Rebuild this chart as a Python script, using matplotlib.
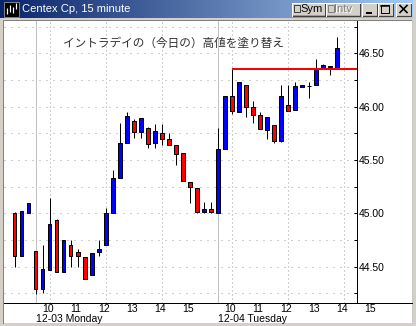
"""
Centex Cp 15-minute candles, 12-03 / 12-04, with the new intraday high marked.
"""

import numpy as np
import matplotlib
matplotlib.use("Agg")
import matplotlib.pyplot as plt
from matplotlib.patches import Rectangle
from matplotlib.ticker import MultipleLocator, FormatStrFormatter

W, H = 416, 326

# bar index: 0 = 12-03 09:30, 26 = 12-04 09:30 (15-minute bars)
bar_x = list(range(-3, 44))
opens = [45.00, 44.60, 45.00,
         44.65, 44.29, 44.47, 44.94, 44.45, 44.70, 44.64, 44.59, 44.42, 44.64,
         44.70, 45.00, 45.33, 45.66, 45.87, 45.76, 45.80, 45.66, 45.75, 45.70,
         45.64, 45.57, 45.29, 45.24, 45.01, 45.04,
         45.00, 45.60, 46.10, 45.95, 46.20, 46.00, 45.92, 45.78, 45.83, 45.68,
         46.02, 45.97, 46.18, 46.19, 46.20, 46.36, 46.37, 46.36]
highs = [45.01, 45.02, 45.10,
         44.65, 44.70, 45.14, 44.95, 44.75, 44.75, 44.67, 44.59, 44.63, 44.75,
         45.05, 45.41, 45.85, 45.95, 45.88, 45.89, 45.81, 45.84, 45.84, 45.75,
         45.64, 45.57, 45.29, 45.24, 45.11, 45.11,
         45.80, 46.10, 46.35, 46.23, 46.20, 46.05, 45.95, 45.90, 45.83, 46.20,
         46.20, 46.23, 46.20, 46.23, 46.45, 46.40, 46.38, 46.65]
lows = [44.50, 44.60, 45.00,
        44.24, 44.25, 44.47, 44.45, 44.45, 44.50, 44.50, 44.38, 44.42, 44.60,
        44.70, 45.00, 45.33, 45.66, 45.71, 45.71, 45.61, 45.61, 45.64, 45.64,
        45.45, 45.30, 45.10, 45.00, 45.00, 45.00,
        45.00, 45.60, 45.93, 45.95, 45.90, 45.85, 45.79, 45.70, 45.66, 45.67,
        45.96, 45.97, 46.18, 46.08, 46.20, 46.36, 46.30, 46.36]
closes = [44.60, 45.02, 45.10,
          44.29, 44.48, 44.90, 44.45, 44.75, 44.60, 44.60, 44.38, 44.63, 44.67,
          45.00, 45.33, 45.66, 45.91, 45.76, 45.89, 45.65, 45.77, 45.70, 45.64,
          45.56, 45.30, 45.25, 45.01, 45.04, 45.01,
          45.60, 46.10, 45.96, 46.23, 46.00, 45.92, 45.79, 45.90, 45.68, 46.10,
          45.96, 46.19, 46.20, 46.19, 46.36, 46.39, 46.38, 46.55]

day_starts = [0, 26]
day_labels = ["12-03 Monday", "12-04 Tuesday"]
hour_labels = ["10", "11", "12", "13", "14", "15"]

hi_level = 46.35      # 12-04 early high that gets taken out
hi_start = 28

note = "イントラデイの（今日の）高値を塗り替え"
title = "Centex Cp, 15 minute"

PT = 72 / 100  # one pixel in points

fig = plt.figure(figsize=(W / 100, H / 100), dpi=100)
fig.patch.set_facecolor("#d4d0c8")

# ---------------------------------------------------------------------------
# window frame (pixel coords)
# ---------------------------------------------------------------------------
bg = fig.add_axes([0, 0, 1, 1])
bg.set_xlim(0, W)
bg.set_ylim(H, 0)
bg.axis("off")

bg.add_patch(Rectangle((3.5, 19.5), 408, 303.5, facecolor="white", edgecolor="none"))
bg.plot([3, 3], [19.5, 323], color="#808080", lw=PT)
bg.plot([3, 412], [19.5, 19.5], color="#808080", lw=PT)
bg.plot([412, 412], [19.5, 323], color="#c8c8c8", lw=PT)

grad = np.linspace(0, 1, 256).reshape(1, -1)
cmap = matplotlib.colors.LinearSegmentedColormap.from_list("tb", ["#0a246a", "#a6caf0"])
bg.imshow(grad, cmap=cmap, extent=(0, 413, 18.5, 0), aspect="auto")
bg.set_xlim(0, W)
bg.set_ylim(H, 0)

# icon
bg.add_patch(Rectangle((3.5, 1.5), 15, 15, facecolor="black", edgecolor="#808080", lw=PT))
for xi, y0, y1 in [(7, 8, 14), (10, 5, 12), (13, 7, 13), (16, 3, 9)]:
    bg.plot([xi, xi], [y0, y1], color="white", lw=1.2 * PT, solid_capstyle="butt")
bg.text(22, 9.5, title, color="white", fontsize=8, family="Liberation Sans",
        va="center", ha="left")


def button(x0, x1, y0=2.7, y1=15.5):
    bg.add_patch(Rectangle((x0, y0), x1 - x0, y1 - y0, facecolor="#d4d0c8", edgecolor="none"))
    bg.plot([x0, x1, x1], [y1, y1, y0], color="#404040", lw=PT)
    bg.plot([x0, x0, x1], [y1, y0, y0], color="white", lw=PT)


button(292.3, 325)
bg.add_patch(Rectangle((294, 5), 6, 7, facecolor="#d4d0c8", edgecolor="#404040", lw=PT))
bg.text(300.5, 9.3, "Sym", fontsize=8, family="Liberation Sans", va="center", ha="left")
button(325.7, 360)
bg.add_patch(Rectangle((327.5, 5), 6, 7, facecolor="#d4d0c8", edgecolor="#808080", lw=PT))
bg.text(335, 10, "Intv", fontsize=8, family="Liberation Sans", va="center", ha="left",
        color="white")
bg.text(334.3, 9.3, "Intv", fontsize=8, family="Liberation Sans", va="center", ha="left",
        color="#808080")
button(362.3, 377.3)
bg.plot([366, 372], [12.5, 12.5], color="black", lw=2 * PT, solid_capstyle="butt")
button(377.5, 392.7)
bg.add_patch(Rectangle((381, 5), 8, 7.5, facecolor="none", edgecolor="black", lw=PT))
bg.plot([381, 389], [5.5, 5.5], color="black", lw=1.5 * PT)
button(396, 411)
bg.plot([400, 407], [5.5, 12.5], color="black", lw=1.6 * PT)
bg.plot([400, 407], [12.5, 5.5], color="black", lw=1.6 * PT)

# x axis line runs across the whole white panel
bg.plot([3.5, 411.5], [302.7, 302.7], color="black", lw=PT)

bg.text(63, 43.5, note, fontsize=8.4, color="#303030", va="center", ha="left",
        family=["Noto Sans CJK JP", "DejaVu Sans"])

# ---------------------------------------------------------------------------
# candles
# ---------------------------------------------------------------------------
ax = fig.add_axes([3.5 / W, 1 - 302.7 / H, (357 - 3.5) / W, (302.7 - 21) / H])
ax.patch.set_alpha(0)
x_lo, x_hi = -4.59, 45.83
ax.set_xlim(x_lo, x_hi)
ax.set_ylim(44.162, 46.803)

for y in np.arange(44.25, 46.8, 0.25):
    ax.axhline(y, color="#a0a0a0", lw=PT, linestyle=(0, (1, 6)), zorder=0)
for d in day_starts:
    ax.axvline(d, color="#c0c0c0", lw=PT, zorder=0)
    for k in (2, 10, 18):
        ax.axvline(d + k, color="#a0a0a0", lw=PT, linestyle=(0, (1, 3)), zorder=0)

x = np.array(bar_x)
o = np.array(opens)
c = np.array(closes)
colors = np.where(c > o, "#0000ff", np.where(c < o, "#ff0000", "black"))

ax.vlines(x, lows, highs, color="black", lw=PT, zorder=2)
ax.bar(x, c - o, bottom=o, width=0.5, color=colors, edgecolor="black",
       linewidth=PT, zorder=3)

ax.hlines(hi_level, hi_start, x_hi, color="#ff0000", lw=2 * PT, zorder=4)

for s in ("top", "left", "bottom"):
    ax.spines[s].set_visible(False)
ax.spines["right"].set_linewidth(PT)

ax.set_xticks([])
ax.yaxis.tick_right()
ax.yaxis.set_major_locator(MultipleLocator(0.5))
ax.yaxis.set_minor_locator(MultipleLocator(0.25))
ax.yaxis.set_major_formatter(FormatStrFormatter("%.2f"))
ax.tick_params(axis="y", which="both", direction="in", length=3 * PT, width=PT,
               pad=1.5, labelsize=7.5)
for lab in ax.get_yticklabels():
    lab.set_family("Liberation Sans")

for d, dlab in zip(day_starts, day_labels):
    for k, hl in enumerate(hour_labels):
        ax.annotate(hl, xy=(d + 2 + 4 * k - 0.3, 0), xycoords=("data", "axes fraction"),
                    xytext=(0, -9.6 * PT), textcoords="offset points",
                    ha="center", va="baseline", fontsize=7.5, family="Liberation Sans",
                    annotation_clip=False)
    ax.annotate(dlab, xy=(d, 0), xycoords=("data", "axes fraction"),
                xytext=(0, -19 * PT), textcoords="offset points",
                ha="left", va="baseline", fontsize=7.5, family="Liberation Sans",
                annotation_clip=False)

fig.savefig("out.png", dpi=100)
